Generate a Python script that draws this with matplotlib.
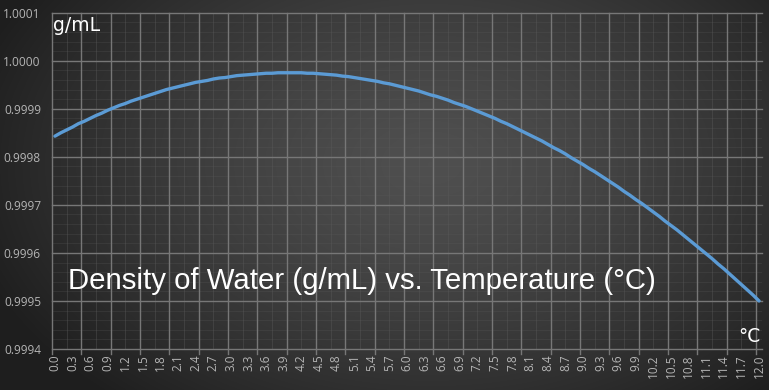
import numpy as np
import matplotlib
matplotlib.use("Agg")
import matplotlib.pyplot as plt

# ---- data ----
temps_c = [round(0.1 * i, 1) for i in range(121)]
tick_labels = [f"{t:.1f}" for t in temps_c]
density = [
    0.999843, 0.999850, 0.999856, 0.999862, 0.999869, 0.999874, 0.999880, 0.999886, 0.999891, 0.999897,
    0.999902, 0.999907, 0.999911, 0.999916, 0.999920, 0.999924, 0.999928, 0.999932, 0.999936, 0.999940,
    0.999943, 0.999946, 0.999949, 0.999952, 0.999955, 0.999957, 0.999959, 0.999962, 0.999964, 0.999965,
    0.999967, 0.999969, 0.999970, 0.999971, 0.999972, 0.999973, 0.999974, 0.999974, 0.999975, 0.999975,
    0.999975, 0.999975, 0.999975, 0.999974, 0.999974, 0.999973, 0.999972, 0.999971, 0.999970, 0.999968,
    0.999967, 0.999965, 0.999963, 0.999961, 0.999959, 0.999957, 0.999954, 0.999952, 0.999949, 0.999946,
    0.999943, 0.999940, 0.999937, 0.999933, 0.999929, 0.999926, 0.999922, 0.999918, 0.999913, 0.999909,
    0.999905, 0.999900, 0.999895, 0.999890, 0.999885, 0.999880, 0.999874, 0.999869, 0.999863, 0.999857,
    0.999851, 0.999845, 0.999839, 0.999833, 0.999826, 0.999819, 0.999813, 0.999806, 0.999798, 0.999791,
    0.999784, 0.999776, 0.999769, 0.999761, 0.999753, 0.999745, 0.999737, 0.999728, 0.999720, 0.999711,
    0.999703, 0.999694, 0.999685, 0.999676, 0.999666, 0.999657, 0.999648, 0.999638, 0.999628, 0.999618,
    0.999608, 0.999598, 0.999588, 0.999577, 0.999567, 0.999556, 0.999545, 0.999534, 0.999523, 0.999512,
    0.999500,
]
y_ticks = [0.9994, 0.9995, 0.9996, 0.9997, 0.9998, 0.9999, 1.0000, 1.0001]
y_tick_labels = ["0.9994", "0.9995", "0.9996", "0.9997", "0.9998", "0.9999", "1.0000", "1.0001"]
title_text = "Density of Water (g/mL) vs. Temperature (°C)"
y_unit = "g/mL"
x_unit = "°C"

W, H = 769, 390
fig = plt.figure(figsize=(W / 100, H / 100), dpi=100)

# background radial gradient
bg = fig.add_axes([0, 0, 1, 1], zorder=0)
yy, xx = np.mgrid[0:H, 0:W]
cx, cy = 0.56 * W, 0.42 * H
r = np.sqrt(((xx - cx) / (0.62 * W)) ** 2 + ((yy - cy) / (0.8 * H)) ** 2)
r = np.clip(r, 0, 1)
c_center, c_edge = 0.31, 0.12
val = c_edge + (c_center - c_edge) * (1 - r ** 1.4)
img = np.dstack([val, val, val])
bg.imshow(img, aspect="auto", extent=[0, 1, 0, 1], origin="upper")
bg.set_axis_off()

L, R, T, B = 52, 762, 12.7, 349
ax = fig.add_axes([L / W, 1 - B / H, (R - L) / W, (B - T) / H], zorder=1)
ax.set_facecolor("none")
n = len(temps_c)
xs = np.arange(n)
ax.set_xlim(-0.5, n - 0.5)
ax.set_ylim(y_ticks[0], y_ticks[-1])

major_col = "#777777"
minor_col = "#5c5c5c"
# horizontal gridlines
for yv in y_ticks:
    ax.axhline(yv, color=major_col, lw=1.0, zorder=1, clip_on=False)
step = (y_ticks[1] - y_ticks[0]) / 5
for i in range(len(y_ticks) - 1):
    for k in range(1, 5):
        ax.axhline(y_ticks[i] + k * step, color=minor_col, lw=0.5, alpha=0.35, zorder=0.5)
# vertical gridlines
for b in np.arange(-0.5, n, 5):
    ax.axvline(b, ymin=-0.015, ymax=1, color=major_col, lw=1.0, zorder=1, clip_on=False)
for b in np.arange(2.0, n, 5):
    ax.axvline(b, color=minor_col, lw=0.6, alpha=0.45, zorder=0.5)

ax.plot(xs, density, color="#5B9BD5", lw=2.4, solid_capstyle="round", zorder=3)

for s in ax.spines.values():
    s.set_visible(False)

ax.set_yticks(y_ticks)
ax.set_yticklabels(y_tick_labels, fontfamily="Open Sans", fontsize=8.6, color="#b4b4b4")
ax.set_xticks(xs[::3])
ax.set_xticklabels(tick_labels[::3], rotation=90, fontfamily="Open Sans", fontsize=8.5,
                   color="#b4b4b4", va="top", ha="center")
ax.tick_params(axis="both", length=0)
ax.tick_params(axis="y", pad=8)
ax.tick_params(axis="x", pad=4)

fig.text(53 / W, 1 - 31 / H, y_unit, color="white", fontsize=13.5, fontfamily="DejaVu Sans",
         ha="left", va="baseline", zorder=5)
fig.text(760 / W, 1 - 342 / H, x_unit, color="white", fontsize=13.5, fontfamily="DejaVu Sans",
         ha="right", va="baseline", zorder=5)
fig.text(68 / W, 1 - 289 / H, title_text, color="white", fontsize=21.2,
         fontfamily="Liberation Sans", ha="left", va="baseline", zorder=5)

fig.savefig("out.png", dpi=100)
